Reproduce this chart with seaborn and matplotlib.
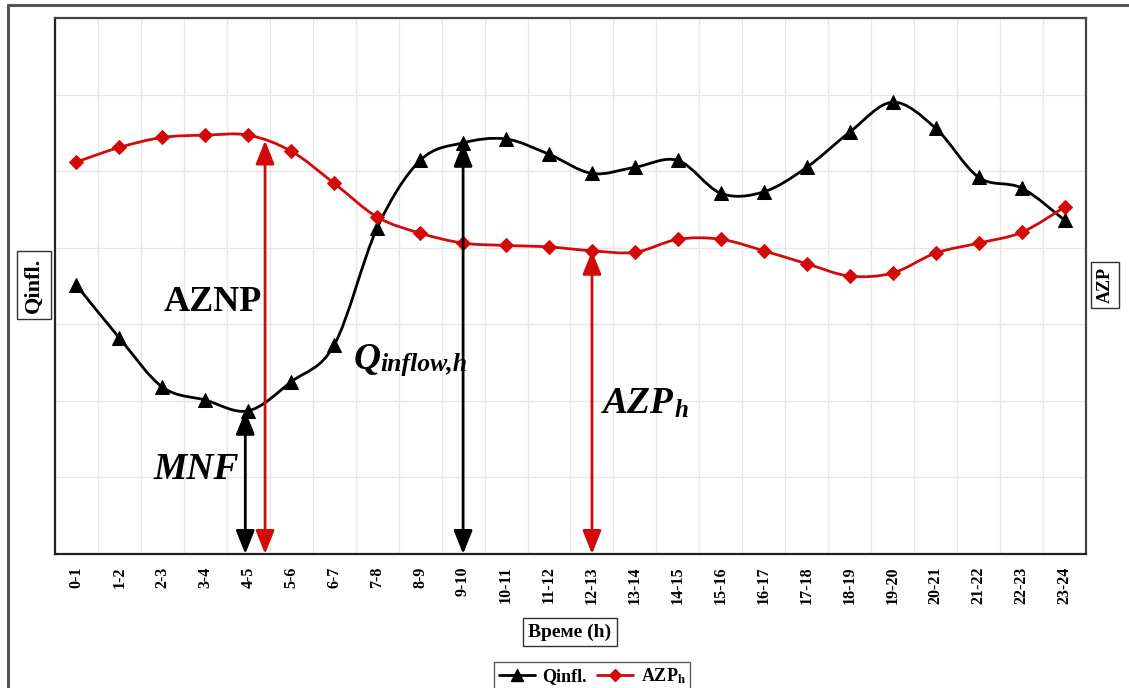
import matplotlib
matplotlib.use("Agg")
import matplotlib.pyplot as plt
import seaborn as sns
import numpy as np
import pandas as pd
from matplotlib.lines import Line2D
from matplotlib.path import Path
from matplotlib.patches import PathPatch

# ---------------- data ----------------
hours = ["0-1", "1-2", "2-3", "3-4", "4-5", "5-6", "6-7", "7-8", "8-9", "9-10",
         "10-11", "11-12", "12-13", "13-14", "14-15", "15-16", "16-17", "17-18",
         "18-19", "19-20", "20-21", "21-22", "22-23", "23-24"]
qinfl = [3.51, 2.82, 2.18, 2.01, 1.87, 2.25, 2.73, 4.26, 5.14, 5.37,
         5.42, 5.22, 4.97, 5.05, 5.14, 4.71, 4.73, 5.05, 5.51, 5.90,
         5.56, 4.92, 4.78, 4.36]
azp = [5.12, 5.31, 5.44, 5.47, 5.47, 5.26, 4.84, 4.40, 4.19, 4.06,
       4.03, 4.01, 3.96, 3.94, 4.11, 4.11, 3.96, 3.79, 3.63, 3.67,
       3.93, 4.06, 4.20, 4.53]
aznp_level = 5.40

# ---------------- style ----------------
sns.set_theme(style="white")
plt.rcParams["font.family"] = ["Liberation Serif", "DejaVu Serif"]
plt.rcParams["font.weight"] = "bold"
plt.rcParams["text.color"] = "black"
plt.rcParams["xtick.color"] = "black"
plt.rcParams["mathtext.fontset"] = "custom"
plt.rcParams["mathtext.it"] = "Liberation Serif:italic:bold"
plt.rcParams["mathtext.rm"] = "Liberation Serif:bold"
plt.rcParams["mathtext.bf"] = "Liberation Serif:bold"

RED = "#d20a0a"
BLACK = "#000000"

df = pd.DataFrame({"x": np.arange(len(hours)), "hour": hours,
                   "Qinfl": qinfl, "AZP": azp})

fig = plt.figure(figsize=(11.29, 6.88), dpi=100)
ax = fig.add_axes([55 / 1129, 1 - 554 / 688, (1086 - 55) / 1129, (554 - 18) / 688])


def smooth_path(xs, ys):
    """Excel-style smoothed line through the data points (cubic Bezier segments)."""
    pts = np.column_stack([xs, ys]).astype(float)
    n = len(pts)
    verts = [pts[0]]
    codes = [Path.MOVETO]
    for i in range(n - 1):
        p0 = pts[i - 1] if i > 0 else pts[i]
        p1 = pts[i]
        p2 = pts[i + 1]
        p3 = pts[i + 2] if i + 2 < n else pts[i + 1]
        c1 = p1 + (p2 - p0) / 6.0
        c2 = p2 - (p3 - p1) / 6.0
        verts += [c1, c2, p2]
        codes += [Path.CURVE4] * 3
    return Path(verts, codes)


# smoothed connecting lines
ax.add_patch(PathPatch(smooth_path(df["x"], df["Qinfl"]), fill=False,
                       ec=BLACK, lw=2, zorder=3))
ax.add_patch(PathPatch(smooth_path(df["x"], df["AZP"]), fill=False,
                       ec=RED, lw=2, zorder=3))
# markers via seaborn
sns.lineplot(data=df, x="x", y="Qinfl", ax=ax, color=BLACK, linestyle="",
             marker="^", markersize=10, markeredgecolor=BLACK, zorder=4)
sns.lineplot(data=df, x="x", y="AZP", ax=ax, color=RED, linestyle="",
             marker="D", markersize=7, markeredgecolor=RED, zorder=4)

ax.set_xlim(-0.5, len(hours) - 0.5)
ax.set_ylim(0, 7)
ax.set_xticks(np.arange(len(hours)))
ax.set_xticklabels(hours, rotation=90, fontsize=11.5, fontweight="bold")
ax.set_xticks(np.arange(len(hours) + 1) - 0.5, minor=True)
ax.set_yticks(np.arange(0, 8))
ax.set_yticklabels([])
ax.tick_params(axis="x", which="major", length=0, pad=9)
ax.tick_params(axis="x", which="minor", length=5, color="#999999", width=0.8)
ax.tick_params(axis="y", length=0)
ax.grid(True, axis="y", which="major", color="#e6e6e6", lw=0.9)
ax.grid(True, axis="x", which="minor", color="#e6e6e6", lw=0.9)
ax.set_xlabel("")
ax.set_ylabel("")
for s in ax.spines.values():
    s.set_visible(True)
    s.set_color("#444444")
    s.set_linewidth(1.6)
ax.spines["bottom"].set_color("#222222")
ax.spines["left"].set_color("#222222")

# ---------------- arrows ----------------
def darrow(x, ytop, color):
    ax.annotate("", xy=(x, 0), xytext=(x, ytop),
                arrowprops=dict(arrowstyle="<|-|>,head_length=1.1,head_width=0.44",
                                color=color, lw=2, shrinkA=0, shrinkB=0,
                                mutation_scale=13), zorder=5)

darrow(3.93, qinfl[4], BLACK)
darrow(4.39, aznp_level, RED)
darrow(9.0, qinfl[9], BLACK)
darrow(12.0, azp[12], RED)

# ---------------- annotations ----------------
ax.text(3.18, 3.28, "AZNP", fontsize=26, fontweight="bold", ha="center", va="center")
ax.text(2.79, 1.10, "MNF", fontsize=27, fontweight="bold", fontstyle="italic",
        ha="center", va="center")
tq = ax.text(6.45, 2.42, "Q", fontsize=27, fontweight="bold", fontstyle="italic",
             ha="left", va="baseline")
ax.annotate("inflow,h", xy=(1, 0), xycoords=tq, xytext=(-0.5, 4),
            textcoords="offset points", fontsize=18.5, fontweight="bold",
            fontstyle="italic", ha="left", va="baseline")
ta = ax.text(12.25, 1.84, "AZP", fontsize=27, fontweight="bold", fontstyle="italic",
             ha="left", va="baseline")
ax.annotate("h", xy=(1, 0), xycoords=ta, xytext=(0.5, 3),
            textcoords="offset points", fontsize=18, fontweight="bold",
            fontstyle="italic", ha="left", va="baseline")

box = dict(boxstyle="square,pad=0.3", fc="white", ec="#333333", lw=1)
fig.text(34 / 1129, 1 - 285 / 688, "Qinfl.", rotation=90, fontsize=16,
         fontweight="bold", ha="center", va="center", bbox=box)
fig.text(1105 / 1129, 1 - 285 / 688, "AZP", rotation=90, fontsize=13,
         fontweight="bold", ha="center", va="center", bbox=box)
fig.text(570 / 1129, 1 - 632 / 688, "Време (h)", fontsize=14,
         fontweight="bold", ha="center", va="center", bbox=box)

handles = [Line2D([], [], color=BLACK, lw=2, marker="^", markersize=9),
           Line2D([], [], color=RED, lw=2, marker="D", markersize=6)]
leg = fig.legend(handles, ["Qinfl.", r"$\mathrm{AZP}_\mathrm{h}$"], ncol=2,
                 loc="center", bbox_to_anchor=(592 / 1129, 1 - 676 / 688),
                 frameon=True, fancybox=False, edgecolor="#333333",
                 handlelength=2.0, handletextpad=0.4,
                 columnspacing=0.6, borderpad=0.25, prop={"weight": "bold", "size": 13})
leg.get_frame().set_linewidth(1)

# outer border
fig.add_artist(Line2D([8 / 1129, 8 / 1129], [0, 1 - 5 / 688], transform=fig.transFigure,
                      color="#555555", lw=2.2))
fig.add_artist(Line2D([8 / 1129, 1], [1 - 5 / 688, 1 - 5 / 688], transform=fig.transFigure,
                      color="#555555", lw=2.2))

fig.savefig("out.png", dpi=100)
